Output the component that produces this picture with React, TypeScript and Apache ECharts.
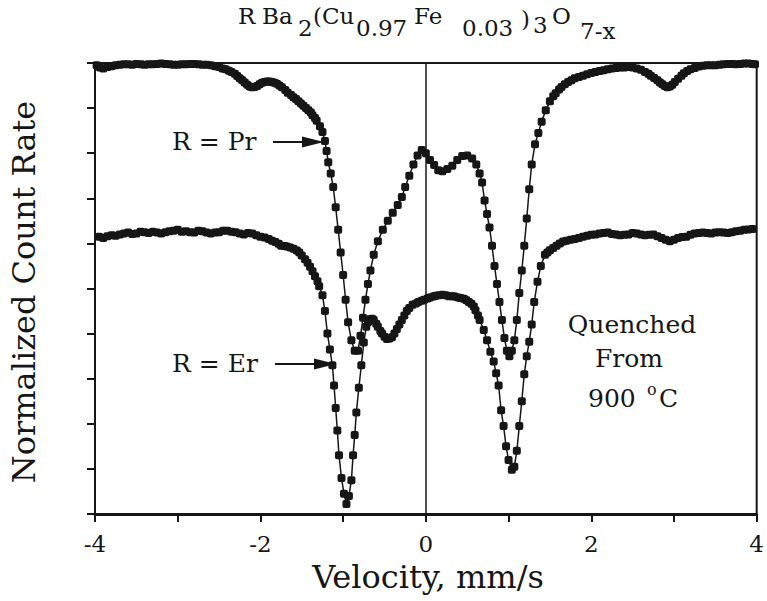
import React, { useEffect, useRef } from "react";
import * as echarts from "echarts";

// Axis ranges and tick labels
const X_MIN = -4;
const X_MAX = 4;
const Y_MIN = 0;
const Y_MAX = 10;
const xLabeledTicks = [-4, -2, 0, 2, 4];

// R = Pr spectrum: [velocity (mm/s), normalized count rate (arb.)]
const prSpectrum: [number, number][] = [
  [-3.98, 9.95], [-3.94, 9.9], [-3.9, 9.88], [-3.85, 9.91], [-3.8, 9.93], [-3.75, 9.95],
  [-3.7, 9.96], [-3.65, 9.97], [-3.6, 9.97], [-3.55, 9.96], [-3.5, 9.98], [-3.45, 9.97],
  [-3.4, 9.96], [-3.35, 9.97], [-3.3, 9.97], [-3.25, 9.98], [-3.2, 9.99], [-3.15, 9.98],
  [-3.1, 9.97], [-3.05, 9.96], [-3.0, 9.96], [-2.95, 9.97], [-2.9, 9.97], [-2.85, 9.98],
  [-2.8, 9.98], [-2.75, 9.97], [-2.7, 9.96], [-2.65, 9.96], [-2.6, 9.95], [-2.55, 9.93],
  [-2.5, 9.91], [-2.46, 9.88], [-2.42, 9.86], [-2.38, 9.83], [-2.35, 9.8], [-2.31, 9.76],
  [-2.28, 9.71], [-2.25, 9.66], [-2.22, 9.62], [-2.19, 9.57], [-2.16, 9.52], [-2.13, 9.48],
  [-2.1, 9.46], [-2.07, 9.47], [-2.04, 9.49], [-2.01, 9.53], [-1.98, 9.56], [-1.95, 9.58],
  [-1.92, 9.59], [-1.89, 9.59], [-1.86, 9.58], [-1.83, 9.56], [-1.8, 9.54], [-1.77, 9.5],
  [-1.74, 9.46], [-1.7, 9.4], [-1.67, 9.34], [-1.63, 9.29], [-1.6, 9.24], [-1.57, 9.2],
  [-1.54, 9.15], [-1.51, 9.1], [-1.48, 9.05], [-1.45, 9.0], [-1.42, 8.95], [-1.39, 8.9],
  [-1.37, 8.84], [-1.34, 8.78], [-1.32, 8.72], [-1.28, 8.6], [-1.25, 8.47], [-1.22, 8.27],
  [-1.2, 8.05], [-1.18, 7.8], [-1.15, 7.55], [-1.12, 7.25], [-1.09, 6.8], [-1.06, 6.3],
  [-1.03, 5.8], [-1.0, 5.3], [-0.97, 4.75], [-0.94, 4.25], [-0.9, 3.85], [-0.86, 3.62],
  [-0.82, 3.62], [-0.79, 3.95], [-0.76, 4.35], [-0.73, 4.75], [-0.7, 5.1], [-0.67, 5.4],
  [-0.63, 5.75], [-0.58, 6.05], [-0.52, 6.3], [-0.46, 6.5], [-0.4, 6.68], [-0.34, 6.85],
  [-0.29, 7.03], [-0.25, 7.25], [-0.2, 7.5], [-0.15, 7.75], [-0.1, 7.95], [-0.05, 8.07],
  [0.0, 8.0], [0.05, 7.85], [0.1, 7.74], [0.15, 7.62], [0.2, 7.6], [0.26, 7.65],
  [0.32, 7.72], [0.38, 7.85], [0.44, 7.94], [0.5, 7.95], [0.56, 7.88], [0.61, 7.75],
  [0.65, 7.55], [0.68, 7.35], [0.71, 6.95], [0.74, 6.65], [0.77, 6.35], [0.8, 5.95],
  [0.83, 5.5], [0.86, 5.1], [0.89, 4.7], [0.92, 4.3], [0.95, 3.9], [0.98, 3.62],
  [1.01, 3.5], [1.04, 3.62], [1.07, 3.85], [1.1, 4.3], [1.13, 4.9], [1.16, 5.4],
  [1.19, 5.95], [1.22, 6.55], [1.25, 7.2], [1.28, 7.75], [1.32, 8.2], [1.36, 8.45],
  [1.4, 8.7], [1.45, 8.95], [1.5, 9.15], [1.54, 9.26], [1.57, 9.33], [1.61, 9.41],
  [1.64, 9.47], [1.68, 9.53], [1.72, 9.58], [1.76, 9.62], [1.8, 9.66], [1.85, 9.69],
  [1.9, 9.72], [1.95, 9.75], [2.0, 9.78], [2.05, 9.8], [2.1, 9.82], [2.15, 9.84],
  [2.2, 9.86], [2.25, 9.88], [2.3, 9.89], [2.35, 9.9], [2.4, 9.9], [2.45, 9.91],
  [2.5, 9.9], [2.55, 9.88], [2.6, 9.85], [2.65, 9.8], [2.69, 9.76], [2.72, 9.72],
  [2.76, 9.67], [2.8, 9.62], [2.83, 9.57], [2.86, 9.53], [2.89, 9.49], [2.92, 9.46],
  [2.95, 9.48], [2.98, 9.52], [3.01, 9.58], [3.05, 9.65], [3.09, 9.72], [3.12, 9.77],
  [3.16, 9.82], [3.2, 9.86], [3.25, 9.89], [3.3, 9.92], [3.35, 9.94], [3.4, 9.95],
  [3.45, 9.95], [3.5, 9.95], [3.55, 9.96], [3.6, 9.97], [3.65, 9.98], [3.7, 9.98],
  [3.75, 9.97], [3.8, 9.98], [3.85, 9.99], [3.9, 9.99], [3.95, 9.98], [3.98, 9.97],
];

// R = Er spectrum
const erSpectrum: [number, number][] = [
  [-3.95, 6.15], [-3.9, 6.12], [-3.85, 6.16], [-3.8, 6.18], [-3.75, 6.17], [-3.7, 6.2],
  [-3.65, 6.22], [-3.6, 6.24], [-3.55, 6.21], [-3.5, 6.22], [-3.45, 6.26], [-3.4, 6.25],
  [-3.35, 6.23], [-3.3, 6.26], [-3.25, 6.24], [-3.2, 6.22], [-3.15, 6.25], [-3.1, 6.27],
  [-3.05, 6.28], [-3.0, 6.3], [-2.95, 6.26], [-2.9, 6.27], [-2.85, 6.25], [-2.8, 6.24],
  [-2.75, 6.28], [-2.7, 6.27], [-2.65, 6.24], [-2.6, 6.22], [-2.55, 6.24], [-2.5, 6.25],
  [-2.45, 6.28], [-2.4, 6.28], [-2.35, 6.26], [-2.3, 6.25], [-2.25, 6.22], [-2.2, 6.2],
  [-2.15, 6.23], [-2.1, 6.22], [-2.05, 6.18], [-2.0, 6.15], [-1.95, 6.13], [-1.9, 6.1],
  [-1.86, 6.06], [-1.82, 6.03], [-1.78, 5.99], [-1.75, 5.95], [-1.71, 5.94], [-1.68, 5.93],
  [-1.64, 5.91], [-1.6, 5.88], [-1.56, 5.84], [-1.53, 5.8], [-1.5, 5.73], [-1.46, 5.65],
  [-1.43, 5.57], [-1.4, 5.48], [-1.37, 5.38], [-1.34, 5.27], [-1.31, 5.16], [-1.29, 5.05],
  [-1.25, 4.85], [-1.22, 4.5], [-1.19, 4.0], [-1.16, 3.65], [-1.13, 3.3], [-1.11, 2.85],
  [-1.09, 2.35], [-1.07, 1.85], [-1.05, 1.3], [-1.02, 0.8], [-0.99, 0.45], [-0.96, 0.22],
  [-0.93, 0.4], [-0.9, 0.75], [-0.88, 1.3], [-0.86, 1.75], [-0.84, 2.25], [-0.81, 2.8],
  [-0.78, 3.3], [-0.75, 3.8], [-0.72, 4.15], [-0.7, 4.25], [-0.68, 4.32], [-0.65, 4.33],
  [-0.63, 4.3], [-0.6, 4.22], [-0.58, 4.15], [-0.55, 4.06], [-0.53, 4.0], [-0.5, 3.93],
  [-0.47, 3.88], [-0.44, 3.89], [-0.41, 3.92], [-0.38, 4.0], [-0.35, 4.1], [-0.32, 4.2],
  [-0.29, 4.3], [-0.26, 4.4], [-0.23, 4.5], [-0.2, 4.57], [-0.16, 4.64], [-0.12, 4.67],
  [-0.09, 4.7], [-0.05, 4.73], [-0.02, 4.75], [0.02, 4.78], [0.05, 4.8], [0.09, 4.82],
  [0.12, 4.84], [0.16, 4.85], [0.2, 4.86], [0.24, 4.85], [0.28, 4.83], [0.32, 4.83],
  [0.35, 4.82], [0.39, 4.8], [0.42, 4.79], [0.46, 4.77], [0.49, 4.74], [0.52, 4.7],
  [0.55, 4.66], [0.58, 4.6], [0.6, 4.52], [0.63, 4.4], [0.65, 4.3], [0.7, 4.08],
  [0.74, 3.85], [0.78, 3.6], [0.82, 3.38], [0.85, 3.12], [0.88, 2.85], [0.91, 2.3],
  [0.94, 1.95], [0.97, 1.5], [1.0, 1.2], [1.04, 0.98], [1.07, 1.05], [1.1, 1.4],
  [1.13, 1.95], [1.16, 2.5], [1.19, 3.1], [1.22, 3.5], [1.25, 3.82], [1.28, 4.2],
  [1.31, 4.7], [1.35, 5.15], [1.39, 5.5], [1.44, 5.75], [1.47, 5.8], [1.5, 5.85],
  [1.54, 5.9], [1.58, 5.95], [1.62, 6.0], [1.66, 6.04], [1.7, 6.06], [1.75, 6.08],
  [1.8, 6.1], [1.85, 6.12], [1.9, 6.15], [1.95, 6.17], [2.0, 6.19], [2.05, 6.2],
  [2.1, 6.22], [2.15, 6.23], [2.2, 6.24], [2.25, 6.21], [2.3, 6.2], [2.35, 6.18],
  [2.4, 6.19], [2.45, 6.2], [2.5, 6.23], [2.55, 6.22], [2.6, 6.2], [2.65, 6.18],
  [2.7, 6.19], [2.75, 6.2], [2.8, 6.16], [2.85, 6.12], [2.9, 6.08], [2.95, 6.05],
  [3.0, 6.08], [3.05, 6.12], [3.1, 6.14], [3.15, 6.15], [3.2, 6.19], [3.25, 6.22],
  [3.3, 6.23], [3.35, 6.24], [3.4, 6.23], [3.45, 6.22], [3.5, 6.24], [3.55, 6.25],
  [3.6, 6.24], [3.65, 6.23], [3.7, 6.25], [3.75, 6.27], [3.8, 6.28], [3.85, 6.3],
  [3.9, 6.31], [3.95, 6.32],
];

// Text content
const titleParts: { text: string; x: number; level: "top" | "sub" | "mid" | "low" | "par" }[] = [
  { text: "R", x: 238, level: "top" },
  { text: "Ba", x: 262, level: "top" },
  { text: "2", x: 298, level: "sub" },
  { text: "(Cu", x: 313, level: "top" },
  { text: "0.97", x: 356, level: "sub" },
  { text: "Fe", x: 414, level: "top" },
  { text: "0.03", x: 462, level: "sub" },
  { text: ")", x: 521, level: "par" },
  { text: "3", x: 533, level: "mid" },
  { text: "O", x: 552, level: "top" },
  { text: "7-x", x: 580, level: "low" },
];
const prLabel = "R = Pr";
const erLabel = "R = Er";
const noteLines = ["Quenched", "From"];
const tempValue = "900";
const tempUnit = "C";
const xName = "Velocity, mm/s";
const yName = "Normalized Count Rate";

const SERIF = "DejaVu Serif";
const INK = "#161616";

export default function App() {
  const ref = useRef<HTMLDivElement>(null);

  useEffect(() => {
    if (!ref.current) return;
    const chart = echarts.init(ref.current, null, { renderer: "svg" });

    const levelY: Record<string, number> = { top: 16, par: 19, sub: 28, mid: 25, low: 31 };
    const txt = (text: string, x: number, y: number, size: number, align = "left", extra: any = {}) => ({
      type: "text",
      x,
      y,
      ...extra,
      style: {
        text,
        fontFamily: SERIF,
        fontSize: size,
        fill: INK,
        align,
        verticalAlign: "middle",
      },
    });

    const titleGraphics = titleParts.map((p) => txt(p.text, p.x, levelY[p.level], 23));

    const seriesStyle = {
      type: "line",
      symbol: "roundRect",
      symbolSize: 8,
      showAllSymbol: true,
      itemStyle: { color: INK },
      lineStyle: { color: INK, width: 1.5 },
      emphasis: { disabled: true },
    };

    chart.setOption({
      animation: false,
      backgroundColor: "#fff",
      grid: {
        left: 95,
        right: 4,
        top: 63,
        bottom: 87,
        show: true,
        borderColor: INK,
        borderWidth: 2,
        backgroundColor: "transparent",
      },
      xAxis: {
        type: "value",
        min: X_MIN,
        max: X_MAX,
        interval: 1,
        axisLine: { show: true, onZero: false, lineStyle: { color: INK, width: 3 } },
        axisTick: { show: true, inside: false, length: 8, lineStyle: { color: INK, width: 2 } },
        axisLabel: {
          color: INK,
          fontFamily: SERIF,
          fontSize: 23,
          margin: 18,
          formatter: (v: number) => (xLabeledTicks.includes(v) ? String(v) : ""),
        },
        splitLine: { show: false },
      },
      yAxis: {
        type: "value",
        min: Y_MIN,
        max: Y_MAX,
        interval: 1,
        axisLine: { show: true, onZero: false, lineStyle: { color: INK, width: 2 } },
        axisTick: { show: true, inside: false, length: 8, lineStyle: { color: INK, width: 2 } },
        axisLabel: { show: false },
        splitLine: { show: false },
      },
      series: [
        {
          ...seriesStyle,
          name: "Pr",
          data: prSpectrum,
          markLine: {
            silent: true,
            symbol: "none",
            label: { show: false },
            lineStyle: { color: INK, width: 1.5, type: "solid" },
            data: [{ xAxis: 0 }],
          },
        },
        { ...seriesStyle, name: "Er", data: erSpectrum },
      ],
      graphic: [
        ...titleGraphics,
        txt(yName, 24, 292, 32, "center", { rotation: Math.PI / 2 }),
        txt(xName, 428, 577, 32, "center"),
        // R = Pr label and arrow
        txt(prLabel, 172, 141, 25),
        { type: "line", shape: { x1: 273, y1: 142, x2: 306, y2: 142 }, style: { stroke: INK, lineWidth: 2 } },
        { type: "polygon", shape: { points: [[302, 136.5], [324, 142], [302, 147.5]] }, style: { fill: INK } },
        // R = Er label and arrow
        txt(erLabel, 172, 363, 25),
        { type: "line", shape: { x1: 275, y1: 364, x2: 318, y2: 364 }, style: { stroke: INK, lineWidth: 2 } },
        { type: "polygon", shape: { points: [[314, 358.5], [336, 364], [314, 369.5]] }, style: { fill: INK } },
        // Quenched From 900 °C
        txt(noteLines[0], 632, 324, 25, "center"),
        txt(noteLines[1], 629, 358, 25, "center"),
        txt(tempValue, 588, 398, 25),
        txt("o", 647, 389, 16),
        txt(tempUnit, 659, 398, 25),
      ],
    });

    return () => chart.dispose();
  }, []);

  return (
    <div
      ref={ref}
      style={{ position: "absolute", left: 0, top: 0, width: 767, height: 601 }}
    />
  );
}
